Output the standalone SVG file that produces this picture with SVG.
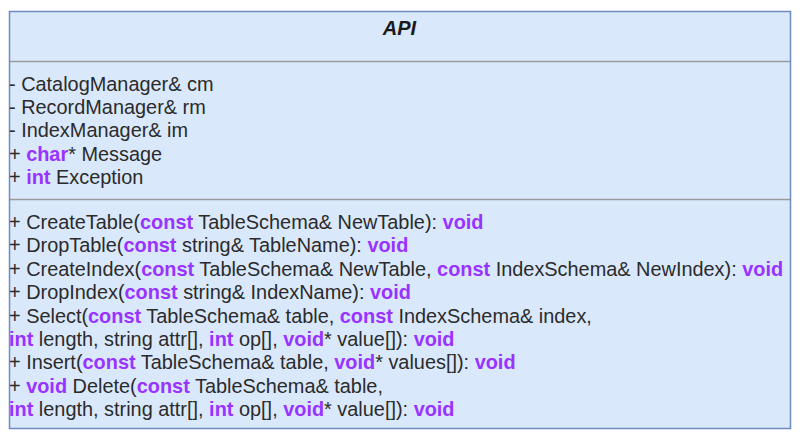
<svg xmlns="http://www.w3.org/2000/svg" width="803" height="438" viewBox="0 0 803 438">
<style>
.box{fill:#dae8fc;stroke:#6c8ebf;stroke-width:1.5}
.sep{stroke:#9a9a9a;stroke-width:1.5}
.title{font-family:"Liberation Sans",Arial,sans-serif;font-size:20px;font-weight:bold;font-style:italic;fill:#1a1a1a;text-anchor:middle}
.t{font-family:"Liberation Sans",Arial,sans-serif;font-size:19.9px;fill:#2b2b2b}
.k{fill:#9933ff;font-weight:bold}
</style>
<rect width="803" height="438" fill="#ffffff"/>
<g id="api">
<rect class="box" x="9.5" y="11.5" width="781" height="417"/>
<line class="sep" x1="10" y1="61.5" x2="790" y2="61.5"/>
<line class="sep" x1="10" y1="199.5" x2="790" y2="199.5"/>
<text class="title" x="399.5" y="35">API</text>
<text class="t" x="9" y="90.5">- CatalogManager&amp; cm</text>
<text class="t" x="9" y="113.8">- RecordManager&amp; rm</text>
<text class="t" x="9" y="137.2">- IndexManager&amp; im</text>
<text class="t" x="9" y="160.6">+ <tspan class="k">char</tspan>* Message</text>
<text class="t" x="9" y="184">+ <tspan class="k">int</tspan> Exception</text>
<text class="t" x="9" y="229">+ CreateTable(<tspan class="k">const</tspan> TableSchema&amp; NewTable): <tspan class="k">void</tspan></text>
<text class="t" x="9" y="252.4">+ DropTable(<tspan class="k">const</tspan> string&amp; TableName): <tspan class="k">void</tspan></text>
<text class="t" x="9" y="275.8">+ CreateIndex(<tspan class="k">const</tspan> TableSchema&amp; NewTable, <tspan class="k">const</tspan> IndexSchema&amp; NewIndex): <tspan class="k">void</tspan></text>
<text class="t" x="9" y="299.2">+ DropIndex(<tspan class="k">const</tspan> string&amp; IndexName): <tspan class="k">void</tspan></text>
<text class="t" x="9" y="322.6">+ Select(<tspan class="k">const</tspan> TableSchema&amp; table, <tspan class="k">const</tspan> IndexSchema&amp; index,</text>
<text class="t" x="9" y="346"><tspan class="k">int</tspan> length, string attr[], <tspan class="k">int</tspan> op[], <tspan class="k">void</tspan>* value[]): <tspan class="k">void</tspan></text>
<text class="t" x="9" y="369.4">+ Insert(<tspan class="k">const</tspan> TableSchema&amp; table, <tspan class="k">void</tspan>* values[]): <tspan class="k">void</tspan></text>
<text class="t" x="9" y="392.8">+ <tspan class="k">void</tspan> Delete(<tspan class="k">const</tspan> TableSchema&amp; table,</text>
<text class="t" x="9" y="416.2"><tspan class="k">int</tspan> length, string attr[], <tspan class="k">int</tspan> op[], <tspan class="k">void</tspan>* value[]): <tspan class="k">void</tspan></text>
</g>
<g id="connectors"/>
</svg>
